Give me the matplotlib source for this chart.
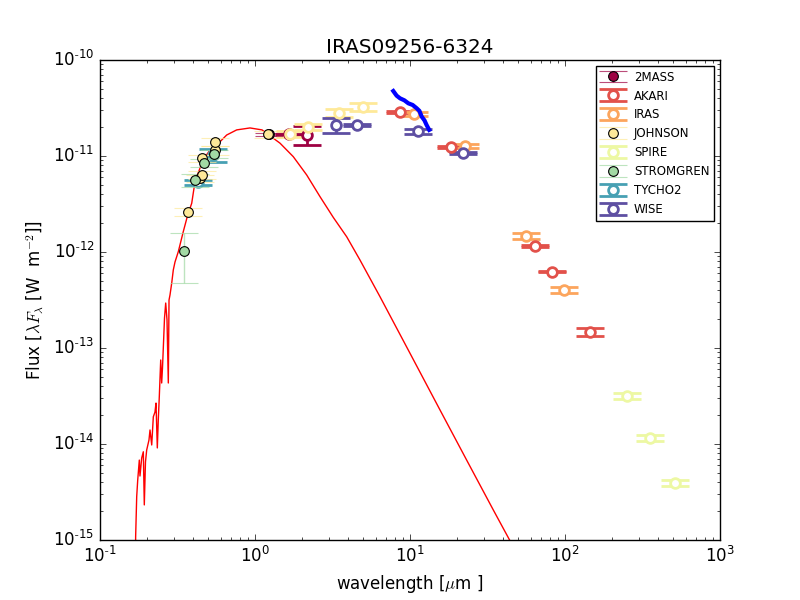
import matplotlib
matplotlib.use('Agg')
import matplotlib.pyplot as plt
from matplotlib.ticker import FuncFormatter
import numpy as np

plt.style.use('classic')

# model SED, values (micron, W m-2)
model_wave = [0.1694, 0.1698, 0.1725, 0.1751, 0.1793, 0.1811, 0.1858, 0.1903,
              0.1931, 0.1965, 0.2001, 0.2070, 0.2102, 0.2156, 0.2208, 0.2263,
              0.2298, 0.2343, 0.2377, 0.2413, 0.2464, 0.2500, 0.2530, 0.2561,
              0.2607, 0.2654, 0.2706, 0.2759, 0.2788, 0.2829, 0.2902, 0.2971,
              0.3047, 0.3200, 0.3446, 0.3680, 0.3906, 0.4101, 0.4619, 0.5126,
              0.5660, 0.6568, 0.7617, 0.9284, 1.110, 1.450, 1.766, 2.156, 2.627,
              3.201, 3.906, 4.757, 6.405, 10.0, 15.62, 23.2, 34.5, 43.9, 59.4]
model_flux = [6.2e-16, 1.08e-15, 2.83e-15, 4.2e-15, 6.8e-15, 4.64e-15, 7.15e-15,
              8.3e-15, 2.32e-15, 6.5e-15, 8.66e-15, 1.10e-14, 1.40e-14, 9.77e-15,
              1.92e-14, 2.15e-14, 2.67e-14, 9.1e-15, 1.78e-14, 3.11e-14, 7.5e-14,
              4.32e-14, 6.19e-14, 1.0e-13, 2.05e-13, 2.94e-13, 1.96e-13, 4.32e-14,
              3.16e-13, 3.57e-13, 4.75e-13, 6.5e-13, 7.87e-13, 1.007e-12, 1.63e-12,
              2.43e-12, 3.22e-12, 5.40e-12, 9.1e-12, 1.155e-11, 1.30e-11, 1.655e-11,
              1.87e-11, 1.96e-11, 1.87e-11, 1.36e-11, 9.84e-12, 6.34e-12, 3.77e-12,
              2.29e-12, 1.44e-12, 8.25e-13, 3.42e-13, 8.81e-14, 2.26e-14, 6.8e-15,
              2.05e-15, 1.0e-15, 3.97e-16]

# mid-IR spectrum
spec_wave = [7.80, 8.20, 8.62, 9.20, 9.75, 10.4, 11.05, 11.5, 11.9, 12.4, 12.8, 13.3]
spec_flux = [4.75e-11, 4.25e-11, 3.99e-11, 3.80e-11, 3.54e-11, 3.40e-11, 3.14e-11,
             2.95e-11, 2.57e-11, 2.35e-11, 2.10e-11, 1.87e-11]

# photometry per catalogue: wavelength, flux, flux error, filled marker
mass2_wave = [1.235, 1.662, 2.159]
mass2_flux = [1.69e-11, 1.68e-11, 1.66e-11]
mass2_err = [0.06e-11, 0.03e-11, 0.37e-11]
mass2_fill = [True, False, False]

akari_wave = [8.6, 18.4, 64.0, 83.0, 145.0]
akari_flux = [2.87e-11, 1.24e-11, 1.155e-12, 6.24e-13, 1.47e-13]
akari_err = [0.05e-11, 0.02e-11, 0.03e-12, 0.08e-13, 0.13e-13]
akari_fill = [False] * 5

iras_wave = [10.6, 22.6, 56.0, 98.6]
iras_flux = [2.74e-11, 1.27e-11, 1.48e-12, 4.02e-13]
iras_err = [0.10e-11, 0.07e-11, 0.10e-12, 0.25e-13]
iras_fill = [False] * 4

johnson_wave = [0.368, 0.442, 0.453, 0.453, 0.548, 0.555, 1.21, 1.68, 2.2, 3.48, 4.97]
johnson_flux = [2.63e-12, 5.9e-12, 6.33e-12, 9.46e-12, 1.15e-11, 1.41e-11, 1.69e-11,
                1.69e-11, 2.0e-11, 2.8e-11, 3.24e-11]
johnson_err = [0.25e-12, 0.5e-12, 0.6e-12, 0.9e-12, 1.2e-12, 1.4e-12, 0.15e-11,
               0.12e-11, 0.14e-11, 0.28e-11, 0.29e-11]
johnson_fill = [True] * 7 + [False] * 4

spire_wave = [251.0, 353.0, 513.0]
spire_flux = [3.16e-14, 1.155e-14, 3.92e-15]
spire_err = [0.22e-14, 0.08e-14, 0.27e-15]
spire_fill = [False] * 3

strom_wave = [0.350, 0.411, 0.471, 0.547]
strom_flux = [1.02e-12, 5.6e-12, 8.4e-12, 1.05e-11]
strom_err = [0.55e-12, 0.9e-12, 0.8e-12, 1.0e-12]
strom_fill = [True] * 4

tycho_wave = [0.428, 0.536]
tycho_flux = [5.36e-12, 1.02e-11]
tycho_err = [0.32e-12, 0.15e-11]
tycho_fill = [False, False]

wise_wave = [3.33, 4.55, 11.2, 22.0]
wise_flux = [2.10e-11, 2.10e-11, 1.82e-11, 1.07e-11]
wise_err = [0.38e-11, 0.04e-11, 0.11e-11, 0.03e-11]
wise_fill = [False] * 4

catalogs = ['2MASS', 'AKARI', 'IRAS', 'JOHNSON', 'SPIRE', 'STROMGREN', 'TYCHO2', 'WISE']
phot = [
    (mass2_wave, mass2_flux, mass2_err, mass2_fill),
    (akari_wave, akari_flux, akari_err, akari_fill),
    (iras_wave, iras_flux, iras_err, iras_fill),
    (johnson_wave, johnson_flux, johnson_err, johnson_fill),
    (spire_wave, spire_flux, spire_err, spire_fill),
    (strom_wave, strom_flux, strom_err, strom_fill),
    (tycho_wave, tycho_flux, tycho_err, tycho_fill),
    (wise_wave, wise_flux, wise_err, wise_fill),
]

fig = plt.figure(figsize=(8, 6), dpi=100)
ax = fig.add_subplot(111)

ax.plot(model_wave, model_flux, '-', color='r', lw=1)

cmap = plt.cm.Spectral
for i, (name, (w, f, e, filled)) in enumerate(zip(catalogs, phot)):
    c = cmap(i / 7.0)
    for j in range(len(w)):
        label = name if j == 0 else None
        if filled[j]:
            ax.errorbar([w[j]], [f[j]], yerr=[e[j]], fmt='o', ms=7, mfc=c, mec='k',
                        mew=0.8, ecolor=(c[0], c[1], c[2], 0.7), elinewidth=1,
                        capsize=10, capthick=1, label=label, zorder=4)
        else:
            ax.errorbar([w[j]], [f[j]], yerr=[e[j]], fmt='o', ms=7, mfc='w', mec=c,
                        mew=2, ecolor=c, elinewidth=2, capsize=10, capthick=2,
                        label=label, zorder=3)

ax.plot(spec_wave, spec_flux, '-', color='b', lw=3, zorder=5)

ax.set_xscale('log')
ax.set_yscale('log')
ax.set_xlim(0.1, 1000)
ax.set_ylim(1e-15, 1e-10)


# old style tick labels: 10^-1 with a plain hyphen
def pow10(v, pos):
    e = int(round(np.log10(v)))
    if e < 0:
        return r'$\mathdefault{10^{\text{-}%d}}$' % (-e)
    return r'$\mathdefault{10^{%d}}$' % e


ax.xaxis.set_major_formatter(FuncFormatter(pow10))
ax.yaxis.set_major_formatter(FuncFormatter(pow10))

ax.set_title('IRAS09256-6324')
ax.set_xlabel(r'wavelength [$\mu$m ]')
ax.set_ylabel(r'Flux [$\lambda F_\lambda$ [W  m$^{-2}$]]')
ax.legend(loc='upper right', numpoints=1, fontsize=8.5)

fig.savefig('out.png', dpi=100)
